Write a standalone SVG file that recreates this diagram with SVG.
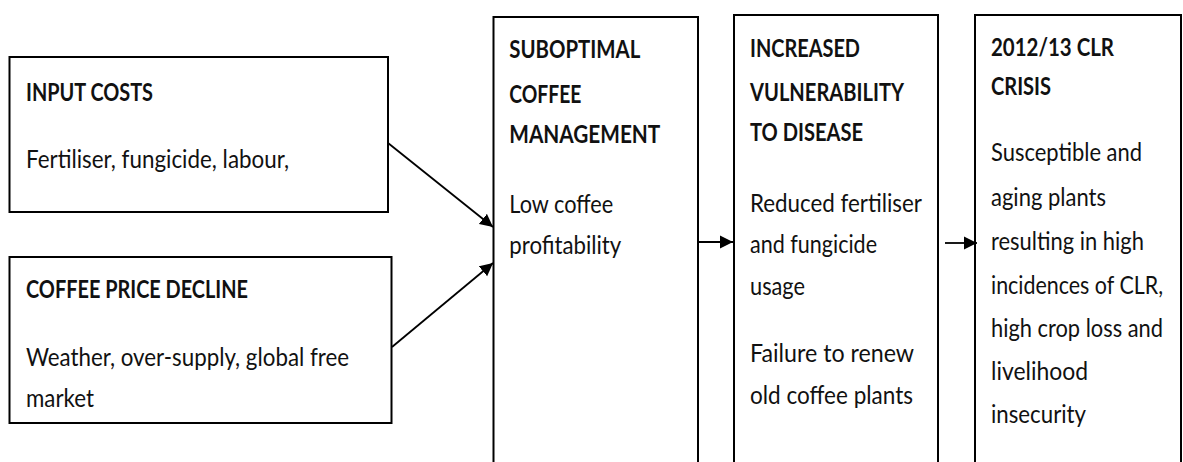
<svg xmlns="http://www.w3.org/2000/svg" width="1183" height="462" viewBox="0 0 1183 462">
  <style>
    .box { fill: #ffffff; stroke: #000000; stroke-width: 2; }
    .ttl { font-family: Lato, "Liberation Sans", sans-serif; font-weight: 700; font-size: 25.5px; fill: #111111; }
    .txt { font-family: Lato, "Liberation Sans", sans-serif; font-weight: 400; font-size: 25.5px; fill: #111111; }
    .link { fill: none; stroke: #000000; stroke-width: 1.8; marker-end: url(#head); }
  </style>
  <defs>
    <marker id="head" markerUnits="userSpaceOnUse" markerWidth="14" markerHeight="14" refX="13" refY="7" orient="auto">
      <path d="M0,0.5 L13,7 L0,13.5 z" fill="#000000"/>
    </marker>
  </defs>
  <rect width="1183" height="462" fill="#ffffff"/>

  <g id="input-costs">
    <rect class="box" x="9.5" y="57" width="378.5" height="155"/>
    <text class="ttl" x="26" y="101" textLength="127" lengthAdjust="spacingAndGlyphs">INPUT COSTS</text>
    <text class="txt" x="26" y="167.7" textLength="263" lengthAdjust="spacingAndGlyphs">Fertiliser, fungicide, labour,</text>
  </g>

  <g id="coffee-price-decline">
    <rect class="box" x="9.5" y="257" width="382" height="166"/>
    <text class="ttl" x="26" y="298.3" textLength="222" lengthAdjust="spacingAndGlyphs">COFFEE PRICE DECLINE</text>
    <text class="txt" x="26" y="366" textLength="323" lengthAdjust="spacingAndGlyphs">Weather, over-supply, global free</text>
    <text class="txt" x="26" y="406.7" textLength="68" lengthAdjust="spacingAndGlyphs">market</text>
  </g>

  <g id="suboptimal-management">
    <rect class="box" x="493.5" y="17" width="204.5" height="470"/>
    <text class="ttl" x="509.3" y="58.3" textLength="131" lengthAdjust="spacingAndGlyphs">SUBOPTIMAL</text>
    <text class="ttl" x="509.3" y="102.7" textLength="72" lengthAdjust="spacingAndGlyphs">COFFEE</text>
    <text class="ttl" x="509.3" y="143.3" textLength="151" lengthAdjust="spacingAndGlyphs">MANAGEMENT</text>
    <text class="txt" x="509.3" y="213.3" textLength="104" lengthAdjust="spacingAndGlyphs">Low coffee</text>
    <text class="txt" x="509.3" y="254" textLength="112" lengthAdjust="spacingAndGlyphs">profitability</text>
  </g>

  <g id="increased-vulnerability">
    <rect class="box" x="734" y="15" width="204" height="470"/>
    <text class="ttl" x="750" y="56.7" textLength="110" lengthAdjust="spacingAndGlyphs">INCREASED</text>
    <text class="ttl" x="750" y="100.7" textLength="154" lengthAdjust="spacingAndGlyphs">VULNERABILITY</text>
    <text class="ttl" x="750" y="140.7" textLength="113" lengthAdjust="spacingAndGlyphs">TO DISEASE</text>
    <text class="txt" x="750" y="211.7" textLength="172" lengthAdjust="spacingAndGlyphs">Reduced fertiliser</text>
    <text class="txt" x="750" y="252.7" textLength="127" lengthAdjust="spacingAndGlyphs">and fungicide</text>
    <text class="txt" x="750" y="295" textLength="55" lengthAdjust="spacingAndGlyphs">usage</text>
    <text class="txt" x="750" y="362" textLength="164" lengthAdjust="spacingAndGlyphs">Failure to renew</text>
    <text class="txt" x="750" y="404" textLength="163" lengthAdjust="spacingAndGlyphs">old coffee plants</text>
  </g>

  <g id="clr-crisis">
    <rect class="box" x="975" y="15" width="206" height="470"/>
    <text class="ttl" x="991" y="56" textLength="123" lengthAdjust="spacingAndGlyphs">2012/13 CLR</text>
    <text class="ttl" x="991" y="95" textLength="60" lengthAdjust="spacingAndGlyphs">CRISIS</text>
    <text class="txt" x="991" y="160.7" textLength="151" lengthAdjust="spacingAndGlyphs">Susceptible and</text>
    <text class="txt" x="991" y="206" textLength="115" lengthAdjust="spacingAndGlyphs">aging plants</text>
    <text class="txt" x="991" y="250" textLength="153" lengthAdjust="spacingAndGlyphs">resulting in high</text>
    <text class="txt" x="991" y="293.5" textLength="172" lengthAdjust="spacingAndGlyphs">incidences of CLR,</text>
    <text class="txt" x="991" y="337" textLength="172" lengthAdjust="spacingAndGlyphs">high crop loss and</text>
    <text class="txt" x="991" y="380" textLength="97" lengthAdjust="spacingAndGlyphs">livelihood</text>
    <text class="txt" x="991" y="423" textLength="95" lengthAdjust="spacingAndGlyphs">insecurity</text>
  </g>

  <g id="connectors">
    <line class="link" x1="388" y1="143" x2="493" y2="227"/>
    <line class="link" x1="392" y1="347" x2="493" y2="263"/>
    <line class="link" x1="699" y1="242" x2="733" y2="242"/>
    <line class="link" x1="945" y1="243" x2="977" y2="243"/>
  </g>
</svg>
